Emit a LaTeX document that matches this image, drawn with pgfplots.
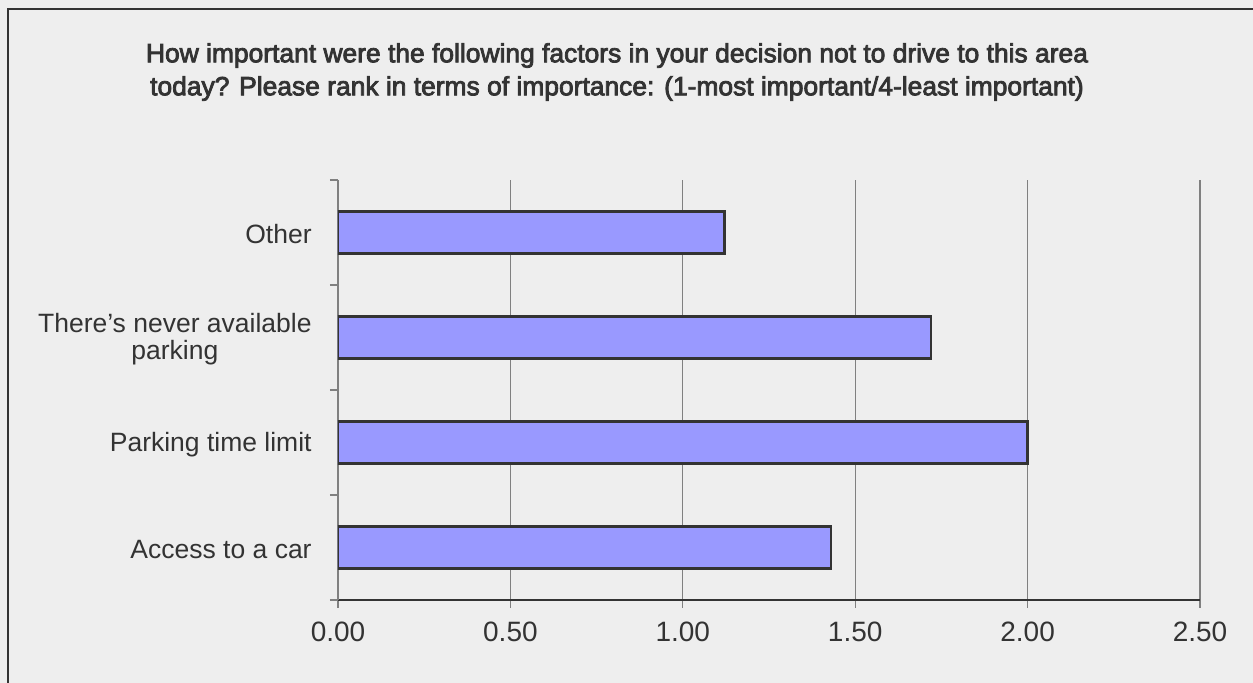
\documentclass[border=0pt]{standalone}
\usepackage{pgfplots}
\pgfplotsset{compat=1.18}
\usepackage{fontspec}
\setmainfont{Liberation Sans}
\definecolor{bg}{HTML}{EEEEEE}
\definecolor{barfill}{HTML}{9999FF}
\definecolor{edge}{HTML}{333333}
\definecolor{gridc}{HTML}{808080}

\begin{document}
\begin{tikzpicture}[x=0.5pt,y=0.5pt]
\fill[bg] (0,0) rectangle (1253,683);
\useasboundingbox (0,0) rectangle (1253,683);
\draw[edge, line width=1.25pt] (8,-5) -- (8,674) -- (1260,674);
\node[font=\fontsize{13.2}{16.5}\selectfont\addfontfeature{FakeBold=3}, align=center, text=edge] at (617,611)
  {How important were the following factors in your decision not to drive to this area\\
   today? Please rank in terms of importance: (1-most important/4-least important)};
\begin{axis}[
  at={(169pt,41.5pt)}, anchor=south west,
  scale only axis, width=431pt, height=210pt,
  xbar, bar width=0.4, bar shift=0pt,
  xmin=0, xmax=2.5, ymin=-0.5, ymax=3.5,
  axis x line=bottom, axis y line=left,
  x axis line style={-, draw=edge, line width=0.6pt},
  y axis line style={-, draw=gridc, line width=0.6pt},
  xtick={0,0.5,...,2.5},
  xticklabels={0.00,0.50,1.00,1.50,2.00,2.50},
  xmajorgrids, grid style={gridc, line width=0.6pt},
  tick align=outside, major tick length=4pt,
  tick style={gridc, line width=0.6pt},
  xticklabel style={font=\fontsize{14}{16}\selectfont, text=edge, yshift=-3.5pt},
  ytick={-0.5,0.5,1.5,2.5,3.5}, yticklabels={},
  extra y ticks={0,1,2,3},
  extra y tick labels={Access to a car, Parking time limit, {There’s never available\\parking}, Other},
  extra y tick style={major tick length=0pt, ymajorgrids=false,
    yticklabel style={font=\fontsize{13.25}{13.5}\selectfont, text=edge, align=center, inner sep=0pt, xshift=-13pt, yshift=-1pt}},
]
\addplot[fill=barfill, draw=edge, line width=1.35pt] coordinates {
  (1.43,0) (2.00,1) (1.72,2) (1.12,3)
};
\end{axis}
\end{tikzpicture}
\end{document}
